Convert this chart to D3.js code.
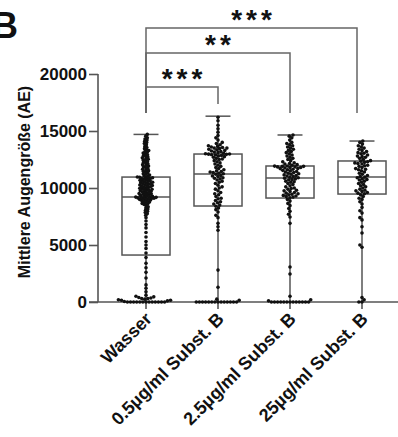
<!DOCTYPE html>
<html>
<head>
<meta charset="utf-8">
<script src="https://cdn.jsdelivr.net/npm/d3@7"></script>
<style>
  body { margin: 0; background: #fff; }
  svg { display: block; font-family: "Liberation Sans", Arial, sans-serif; }
</style>
</head>
<body>
<script>
var categories = ["Wasser", "0.5µg/ml Subst. B", "2.5µg/ml Subst. B", "25µg/ml Subst. B"];

// box statistics
var q1 = [4120, 8420, 9120, 9470];
var medians = [9210, 11230, 10880, 10960];
var q3 = [10960, 12980, 11930, 12370];
var maxs = [14700, 16300, 14650, 14120];
var mins = [0, 0, 0, 0];

var yTicks = [0, 5000, 10000, 15000, 20000];

// individual points (estimated)
var wasser = [0, 0, 0, 0, 0, 0, 0, 0, 0, 0, 0, 0, 0,
  50, 100, 150, 200, 250, 300, 350, 400, 500, 600, 150, 300, 450,
  900, 1200, 1500, 2100, 2600, 3000, 3400, 3900,
  4300, 4700, 5000, 5300, 5700, 6100, 6500, 6800, 7100, 7400,
  7600, 7750, 7850, 7950, 8050, 8150, 8250, 8350, 8450, 8550, 8600, 8650, 8700, 8750, 8800, 8850,
  8900, 8930, 8960, 9000, 9030, 9060, 9090, 9110, 9130, 9150, 9170, 9180, 9190, 9200,
  9250, 9280, 9330, 9350, 9390, 9430, 9460, 9500, 9520, 9570, 9610, 9640, 9670, 9710, 9760, 9780, 9820, 9870,
  9890, 9930, 9970, 10000, 10030, 10080, 10110, 10140, 10190, 10220, 10260, 10290, 10320, 10370, 10400, 10440,
  10470, 10500, 10550, 10580, 10620, 10650, 10680, 10720, 10770, 10790, 10830, 10860, 10900, 10920, 10940, 10960,
  11000, 11060, 11130, 11200, 11250, 11330, 11400, 11460, 11520, 11600, 11650, 11730, 11800, 11860, 11920, 12000,
  12050, 12120, 12200, 12260, 12330, 12400, 12460, 12520, 12600, 12650, 12720, 12800, 12850, 12920, 13000, 13060,
  13130, 13200, 13280, 13350, 13450, 13550, 13650, 13800, 13900, 14000, 14100, 14200, 14300, 14400, 14550, 14700];

var subst05 = [0, 0, 0, 0, 0, 0, 0, 0, 0, 0, 0, 0, 0, 0, 150, 250,
  1300, 2800, 6300, 6600, 6900, 7400, 7600, 7900, 8100, 8250, 8400,
  8500, 8600, 8700, 8800, 8900, 9050, 9100, 9250, 9400, 9500, 9600, 9750, 9900, 10000, 10100, 10250, 10400, 10500,
  10600, 10700, 10800, 10850, 10900, 11000, 11050, 11100, 11200,
  11250, 11300, 11350, 11400, 11450, 11500, 11600, 11700, 11800, 11900, 12000, 12100, 12200, 12300, 12400, 12500,
  12550, 12600, 12700, 12750, 12800, 12850, 12900, 12920, 12950, 12970, 12980,
  13000, 13050, 13100, 13150, 13200, 13250, 13300, 13350, 13400, 13450, 13500, 13500, 13550, 13600, 13650, 13700,
  13800, 13900, 14000, 14200, 14400, 14600, 14900, 15200, 15500, 15900, 16200];

var subst25 = [0, 0, 0, 0, 0, 0, 0, 0, 0, 0, 0, 0, 0, 100, 200, 500,
  2450, 3070, 6900, 7460, 7700, 7950, 8200, 8450, 8650, 8850, 9000,
  9150, 9200, 9250, 9300, 9350, 9400, 9450, 9500, 9550, 9600, 9700, 9750, 9800, 9900, 9950, 10000, 10100, 10200,
  10300, 10400, 10500, 10550, 10600, 10700, 10750, 10800, 10850,
  10900, 10950, 11000, 11050, 11100, 11150, 11200, 11250, 11300, 11350, 11400, 11450, 11500, 11550, 11600, 11650,
  11700, 11700, 11750, 11800, 11800, 11850, 11850, 11900, 11900, 11920, 11930,
  12000, 12050, 12100, 12150, 12200, 12300, 12400, 12500, 12600, 12700, 12800, 12900, 13000, 13100, 13200, 13300,
  13400, 13500, 13600, 13700, 13800, 13900, 14000, 14200, 14400, 14550, 14650];

var subst250 = [0, 0, 200, 400,
  4800, 5000, 6050, 6600, 7200, 7400, 7800, 8000, 8300, 8600, 8800, 9000, 9100, 9250, 9400,
  9500, 9550, 9600, 9700, 9750, 9800, 9900, 10000, 10100, 10200, 10300, 10400, 10500, 10600, 10700, 10750,
  10800, 10900, 10950,
  11000, 11100, 11200, 11300, 11400, 11500, 11600, 11650, 11700, 11800, 11900, 11950, 12000, 12100, 12150, 12200,
  12250, 12300, 12350,
  12400, 12500, 12600, 12700, 12750, 12800, 12900, 13000, 13050, 13100, 13200, 13300, 13400, 13500, 13600, 13700,
  13850, 14000, 14120];

var points = [wasser, subst05, subst25, subst250];
// dot spacing per group (Wasser dots overlap more above the zero row)
var spacing = [2.3, 3.1, 3.1, 3.1];

// significance brackets: from group, to group, label, bracket level, drop end values
var brkFrom = [0, 0, 0];
var brkTo = [1, 2, 3];
var brkLabel = ["***", "**", "***"];
var brkLevel = [18860, 21840, 24035];
var brkDropLeft = [16580, 16580, 16580];
var brkDropRight = [17370, 16580, 16580];

var width = 398, height = 437;

var svg = d3.select("body").append("svg")
  .attr("width", width)
  .attr("height", height);

var x = d3.scaleBand()
  .domain(categories)
  .range([110, 398])
  .padding(0);

var y = d3.scaleLinear()
  .domain([0, 20000])
  .range([302, 74]);

var axisColor = "#555";
var boxW = x.bandwidth() * 0.667;
var capW = boxW * 0.52;

// panel letter
svg.append("text")
  .attr("x", -8)
  .attr("y", 38)
  .attr("font-size", 36)
  .attr("font-weight", "bold")
  .attr("fill", "#111")
  .text("B");

// y axis
var yAxis = svg.append("g")
  .attr("transform", "translate(98,0)")
  .call(d3.axisLeft(y).tickValues(yTicks).tickSize(9).tickPadding(2).tickFormat(d3.format("d")));
yAxis.select(".domain").remove();
yAxis.selectAll("line").attr("stroke", axisColor).attr("stroke-width", 1.6);
yAxis.selectAll("text")
  .attr("font-size", 17)
  .attr("font-weight", "bold")
  .attr("fill", "#111")
  .attr("font-family", "Liberation Sans, Arial, sans-serif");
svg.append("line")
  .attr("x1", 98).attr("x2", 98)
  .attr("y1", y(20000)).attr("y2", y(0))
  .attr("stroke", axisColor).attr("stroke-width", 1.6);

// x axis
var xAxis = svg.append("g")
  .attr("transform", "translate(0," + y(0) + ")")
  .call(d3.axisBottom(x).tickSize(7).tickFormat(""));
xAxis.select(".domain").remove();
xAxis.selectAll("line").attr("stroke", axisColor).attr("stroke-width", 1.6);
svg.append("line")
  .attr("x1", 89).attr("x2", width)
  .attr("y1", y(0)).attr("y2", y(0))
  .attr("stroke", axisColor).attr("stroke-width", 1.6);

svg.selectAll(".xlabel")
  .data(categories)
  .enter().append("text")
  .attr("class", "xlabel")
  .attr("transform", function (d) {
    return "translate(" + (x(d) + x.bandwidth() / 2 + 7) + "," + 320 + ") rotate(-45)";
  })
  .attr("text-anchor", "end")
  .attr("font-size", 18)
  .attr("font-weight", "bold")
  .attr("fill", "#111")
  .text(function (d) { return d; });

// y label
svg.append("text")
  .attr("transform", "translate(30,182) rotate(-90)")
  .attr("text-anchor", "middle")
  .attr("font-size", 16)
  .attr("font-weight", "bold")
  .attr("fill", "#111")
  .text("Mittlere Augengröße (AE)");

// boxes
var boxes = svg.append("g");
categories.forEach(function (c, i) {
  var cx = x(c) + x.bandwidth() / 2;
  var g = boxes.append("g").attr("stroke", axisColor).attr("stroke-width", 1.5).attr("fill", "none");
  g.append("rect")
    .attr("x", cx - boxW / 2).attr("width", boxW)
    .attr("y", y(q3[i])).attr("height", y(q1[i]) - y(q3[i]));
  g.append("line")
    .attr("x1", cx - boxW / 2).attr("x2", cx + boxW / 2)
    .attr("y1", y(medians[i])).attr("y2", y(medians[i]));
  g.append("line")
    .attr("x1", cx).attr("x2", cx)
    .attr("y1", y(q3[i])).attr("y2", y(maxs[i]));
  g.append("line")
    .attr("x1", cx).attr("x2", cx)
    .attr("y1", y(q1[i])).attr("y2", y(mins[i]));
  g.append("line")
    .attr("x1", cx - capW / 2).attr("x2", cx + capW / 2)
    .attr("y1", y(maxs[i])).attr("y2", y(maxs[i]));
});

// beeswarm dodge so dots sit side by side; the zero row always uses the wide spacing
function dodge(values, diamHigh) {
  var placed = [];
  var sorted = values.map(function (v, k) { return { v: v, py: y(v), k: k }; })
    .sort(function (a, b) { return a.v - b.v; });
  sorted.forEach(function (p) {
    var diam = p.v < 800 ? 3.1 : diamHigh;
    var near = placed.filter(function (q) { return Math.abs(q.py - p.py) < diam; });
    var cands = [0];
    near.forEach(function (q) {
      var dx = Math.sqrt(diam * diam - (q.py - p.py) * (q.py - p.py));
      cands.push(q.dx - dx, q.dx + dx);
    });
    cands.sort(function (a, b) { return Math.abs(a) - Math.abs(b) || a - b; });
    for (var j = 0; j < cands.length; j++) {
      var c = cands[j];
      var ok = near.every(function (q) {
        var ddx = q.dx - c, ddy = q.py - p.py;
        return ddx * ddx + ddy * ddy >= diam * diam - 0.01;
      });
      if (ok) { p.dx = c; break; }
    }
    placed.push(p);
  });
  return placed;
}

categories.forEach(function (c, i) {
  var cx = x(c) + x.bandwidth() / 2;
  var pts = dodge(points[i], spacing[i]);
  svg.append("g").selectAll("circle")
    .data(pts)
    .enter().append("circle")
    .attr("cx", function (d) { return cx + d.dx; })
    .attr("cy", function (d) { return d.py; })
    .attr("r", 1.8)
    .attr("fill", "#111");
});

// significance brackets
var brk = svg.append("g");
brkFrom.forEach(function (f, i) {
  var x1 = x(categories[f]) + x.bandwidth() / 2;
  var x2 = x(categories[brkTo[i]]) + x.bandwidth() / 2;
  if (i === 2) x2 -= 5;
  var yl = y(brkLevel[i]);
  brk.append("path")
    .attr("d", "M" + x1 + "," + y(brkDropLeft[i]) + "V" + yl + "H" + x2 + "V" + y(brkDropRight[i]))
    .attr("fill", "none")
    .attr("stroke", "#666")
    .attr("stroke-width", 1.5);
  brk.append("text")
    .attr("x", (x1 + x2) / 2 + 2)
    .attr("y", yl + 1)
    .attr("text-anchor", "middle")
    .attr("font-size", 28)
    .attr("font-weight", "bold")
    .attr("letter-spacing", 4)
    .attr("fill", "#111")
    .text(brkLabel[i]);
});
</script>
</body>
</html>
